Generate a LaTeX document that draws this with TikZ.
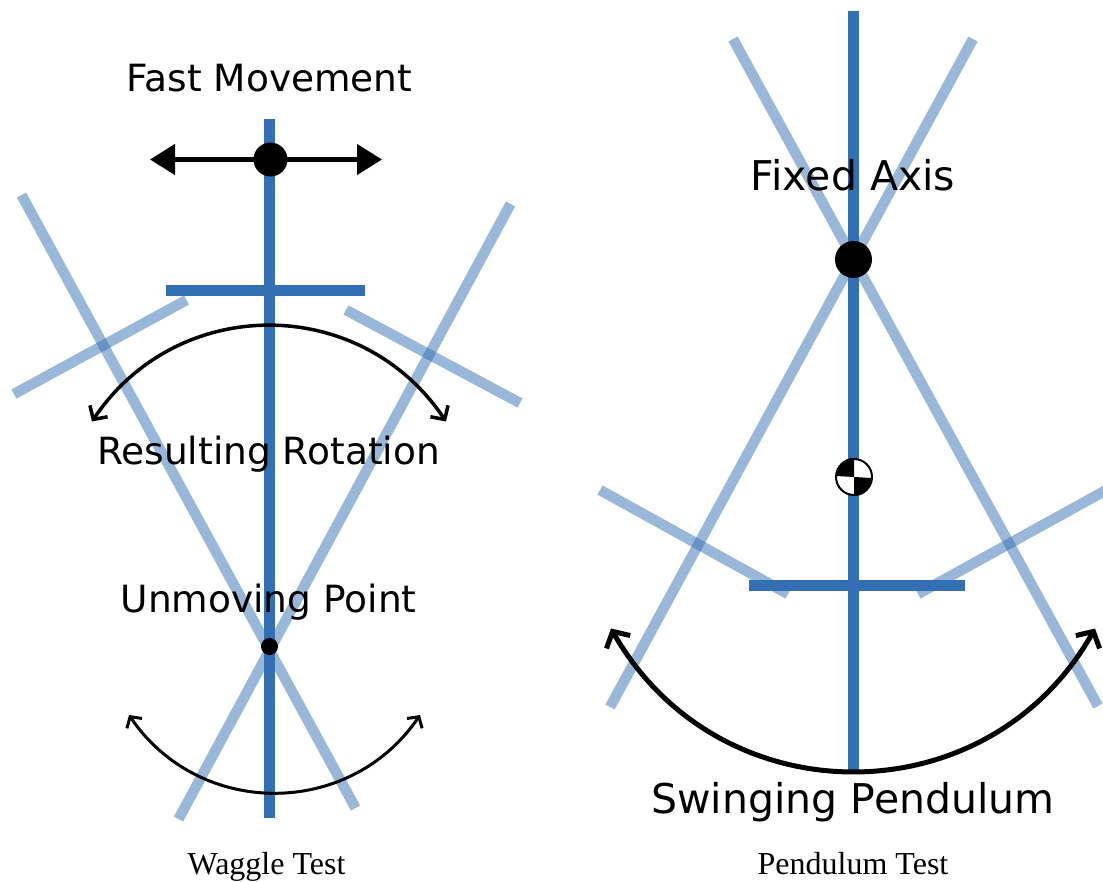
\documentclass[tikz,border=0pt]{standalone}
\usepackage{fontspec}
\setmainfont{DejaVu Sans}
\newfontfamily\capfont{Liberation Serif}
\usetikzlibrary{arrows.meta,bending}
\definecolor{barblue}{RGB}{51,112,179}
\tikzset{
  solidbar/.style={draw=barblue,line width=11pt},
  fadedbar/.style={draw=barblue,line width=10.5pt,draw opacity=.5},
  smalllabel/.style={anchor=base,inner sep=0pt,font=\fontsize{37.5}{38}\selectfont},
  biglabel/.style={anchor=base,inner sep=0pt,font=\fontsize{41}{41}\selectfont},
  caption/.style={anchor=base,inner sep=0pt,font=\capfont\fontsize{32}{32}\selectfont},
  dot/.style={circle,fill=black,inner sep=0pt},
  swingA/.style={line width=3.5pt,{Straight Barb[length=10pt,width=21pt,flex=0]}-{Straight Barb[length=10pt,width=21pt,flex=0]}},
  swingB/.style={line width=3pt,{Straight Barb[length=8pt,width=18pt,flex=0]}-{Straight Barb[length=8pt,width=18pt,flex=0]}},
  swingC/.style={line width=5pt,{Straight Barb[length=12pt,width=27pt,flex=0]}-{Straight Barb[length=12pt,width=27pt,flex=0]}},
}
\begin{document}
\begin{tikzpicture}[x=1pt,y=-1pt]
\path[use as bounding box] (0,0) rectangle (1103,881);
% named points, waggle test
\coordinate (wtop) at (269.5,119);
\coordinate (wbot) at (269.5,818);
\coordinate (wbarl) at (166,290);
\coordinate (wbarr) at (365,290);
\coordinate (fa1) at (21.5,195);
\coordinate (fa2) at (355.5,808);
\coordinate (fb1) at (510.5,204);
\coordinate (fb2) at (178.5,819);
\coordinate (fc1) at (186.5,300);
\coordinate (fc2) at (14,394);
\coordinate (fd1) at (346,310);
\coordinate (fd2) at (520,403);
\coordinate (arcAl) at (92,421.5);
\coordinate (arcAr) at (446,421.5);
\coordinate (arcBl) at (129,715);
\coordinate (arcBr) at (420,715);
\coordinate (left) at (150,159.5);
\coordinate (right) at (382,159.5);
% named points, pendulum test
\coordinate (ptop) at (853.5,11);
\coordinate (pbot) at (853.5,772);
\coordinate (pbarl) at (749,585.5);
\coordinate (pbarr) at (965,585.5);
\coordinate (ga1) at (733,39);
\coordinate (ga2) at (1098,706);
\coordinate (gb1) at (973,39);
\coordinate (gb2) at (610,707);
\coordinate (gc1) at (600,490);
\coordinate (gc2) at (788,594);
\coordinate (gd1) at (1110,488);
\coordinate (gd2) at (918,594);
\coordinate (arcCl) at (611,628.5);
\coordinate (arcCr) at (1095,628.5);
% faded positions
\draw[fadedbar] (fa1) -- (fa2);
\draw[fadedbar] (fb1) -- (fb2);
\draw[fadedbar] (fc1) -- (fc2);
\draw[fadedbar] (fd1) -- (fd2);
\draw[fadedbar] (ga1) -- (ga2);
\draw[fadedbar] (gb1) -- (gb2);
\draw[fadedbar] (gc1) -- (gc2);
\draw[fadedbar] (gd1) -- (gd2);
% solid positions
\draw[solidbar] (wtop) -- (wbot);
\draw[solidbar] (wbarl) -- (wbarr);
\draw[solidbar] (ptop) -- (pbot);
\draw[solidbar] (pbarl) -- (pbarr);
% fast movement
\draw[line width=4.5pt,{Triangle[length=25pt,width=30pt]}-{Triangle[length=25pt,width=30pt]}] (left) -- (right);
\node[dot,minimum size=34pt] (wdot) at (270.5,159.5) {};
\node[dot,minimum size=17pt] (wpivot) at (269.5,646.5) {};
\node[dot,minimum size=37pt] (ppivot) at (853.5,259.5) {};
% arcs
\draw[swingA] (arcAl) .. controls (175,293) and (363,293) .. (arcAr);
\draw[swingB] (arcBl) .. controls (197.2,819.4) and (351.8,819.4) .. (arcBr);
\draw[swingC] (arcCl) .. controls (715.5,819.8) and (991.5,819.8) .. (arcCr);
% centre of mass
\node[circle,fill=white,draw=black,line width=2pt,minimum size=36pt,inner sep=0pt] (com) at (854,477) {};
\fill (com.center) -- (com.north) arc[start angle=90,end angle=180,radius=18pt] -- cycle;
\fill (com.center) -- (com.south) arc[start angle=-90,end angle=0,radius=18pt] -- cycle;
% labels
\node[smalllabel] (l1) at (269.5,91) {Fast Movement};
\node[smalllabel] (l2) at (268.5,464) {Resulting Rotation};
\node[smalllabel] (l3) at (268.5,612.5) {Unmoving Point};
\node[biglabel] (l4) at (853,190) {Fixed Axis};
\node[biglabel] (l5) at (853,813) {Swinging Pendulum};
\node[caption] (c1) at (266.5,874) {Waggle Test};
\node[caption] (c2) at (853,874) {Pendulum Test};
\end{tikzpicture}
\end{document}
